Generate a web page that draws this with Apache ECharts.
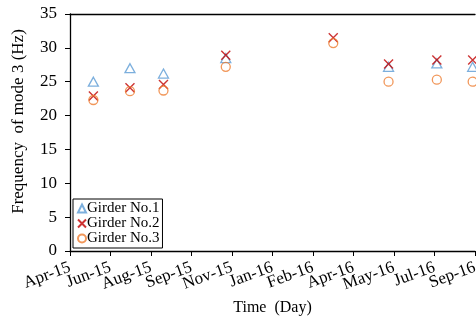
<!DOCTYPE html>
<html>
<head>
<meta charset="utf-8">
<script src="https://cdn.jsdelivr.net/npm/echarts@6/dist/echarts.min.js"></script>
<style>
  html, body { margin: 0; padding: 0; background: #fff; }
  #chart { width: 476px; height: 320px; }
</style>
</head>
<body>
<div id="chart"></div>
<script>
// tick labels, one every 52 days from the start of the axis
const tickLabels = ['Apr-15', 'Jun-15', 'Aug-15', 'Sep-15', 'Nov-15', 'Jan-16', 'Feb-16', 'Apr-16', 'May-16', 'Jul-16', 'Sep-16']
const tickStep = 52

// measurement days (days after axis start)
const measureDays = [30, 77, 120, 200, 338, 409, 471, 517]

const girder1 = [25.0, 27.0, 26.2, 28.5, null, 27.2, 27.7, 27.2]
const girder2 = [22.9, 24.1, 24.6, 28.9, 31.5, 27.6, 28.2, 28.2]
const girder3 = [22.3, 23.6, 23.7, 27.2, 30.7, 25.0, 25.3, 25.0]

const seriesNames = ['Girder No.1', 'Girder No.2', 'Girder No.3']

const font = 'Liberation Serif, Times New Roman, serif'
const crossPath = 'path://M0,0L10,10M10,0L0,10'
const axisMax = tickStep * (tickLabels.length - 1)

const toPoints = (vals) => measureDays.map((d, i) => [d, vals[i]]).filter((p) => p[1] != null)

const chart = echarts.init(document.getElementById('chart'))

chart.setOption({
  animation: false,
  backgroundColor: '#fff',
  textStyle: { fontFamily: font, color: '#000' },
  grid: { left: 70, right: 1, top: 14, bottom: 69, containLabel: false, outerBoundsMode: 'none' },
  legend: {
    orient: 'vertical',
    left: 73,
    top: 199,
    padding: [2, 3, 2, 4],
    itemGap: 0,
    itemWidth: 8,
    itemHeight: 8,
    borderColor: '#000',
    borderWidth: 1,
    backgroundColor: '#fff',
    textStyle: { fontFamily: font, fontSize: 15, color: '#000', padding: [0, 0, 0, -4] },
    data: seriesNames
  },
  xAxis: [
    {
      // data axis (days)
      type: 'value',
      min: 0,
      max: axisMax,
      interval: tickStep,
      axisLine: { show: true, lineStyle: { color: '#000', width: 1.3 } },
      axisTick: { show: false },
      axisLabel: { show: false },
      splitLine: { show: false }
    },
    {
      // top frame line
      type: 'value',
      position: 'top',
      min: 0,
      max: axisMax,
      axisLine: { show: true, lineStyle: { color: '#000', width: 1.3 } },
      axisTick: { show: false },
      axisLabel: { show: false },
      splitLine: { show: false }
    },
    {
      // tick labels
      type: 'category',
      position: 'bottom',
      boundaryGap: false,
      data: tickLabels,
      name: 'Time  (Day)',
      nameLocation: 'middle',
      nameGap: 48,
      nameTextStyle: { fontFamily: font, fontSize: 16, color: '#000' },
      axisLine: { show: false },
      axisTick: { show: true, inside: false, length: 5, interval: 0, lineStyle: { color: '#000' } },
      splitLine: { show: false },
      axisLabel: {
        interval: 0,
        rotate: 20,
        margin: 16,
        fontFamily: font,
        fontSize: 17,
        color: '#000'
      }
    }
  ],
  yAxis: {
    type: 'value',
    min: 0,
    max: 35,
    interval: 5,
    name: 'Frequency  of mode 3 (Hz)',
    nameLocation: 'middle',
    nameGap: 43,
    nameTextStyle: { fontFamily: font, fontSize: 17, color: '#000', padding: [0, 0, 0, 22] },
    axisLine: { show: true, lineStyle: { color: '#000', width: 1.3 } },
    axisTick: { show: true, inside: false, length: 5, lineStyle: { color: '#000' } },
    splitLine: { show: false },
    axisLabel: { margin: 13, fontFamily: font, fontSize: 17, color: '#000' }
  },
  series: [
    {
      name: seriesNames[0],
      type: 'scatter',
      symbol: 'triangle',
      symbolSize: [10, 9],
      itemStyle: { color: 'rgba(255,255,255,0)', borderColor: '#5B9BD5', borderWidth: 1.3 },
      data: toPoints(girder1)
    },
    {
      name: seriesNames[1],
      type: 'scatter',
      symbol: crossPath,
      symbolSize: 9,
      itemStyle: { color: 'rgba(255,255,255,0)', borderColor: '#C00000', borderWidth: 1.4 },
      data: toPoints(girder2)
    },
    {
      name: seriesNames[2],
      type: 'scatter',
      symbol: 'circle',
      symbolSize: 9,
      itemStyle: { color: 'rgba(255,255,255,0)', borderColor: '#ED7D31', borderWidth: 1.3 },
      data: toPoints(girder3)
    }
  ]
})

window.addEventListener('resize', () => {
  chart.resize()
})
</script>
</body>
</html>
